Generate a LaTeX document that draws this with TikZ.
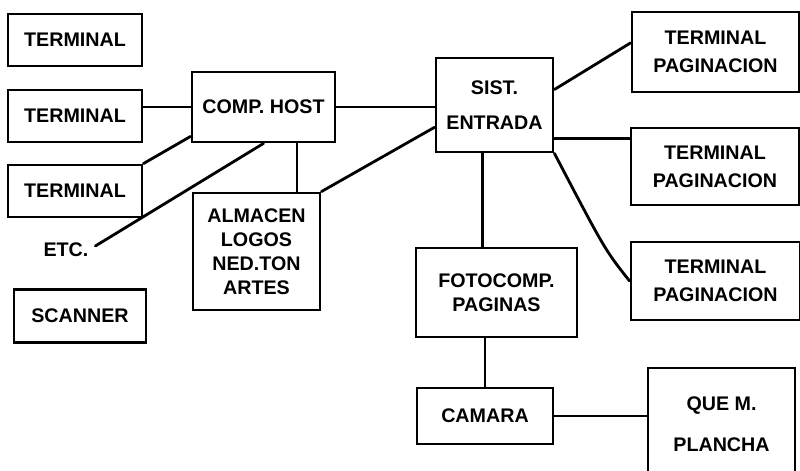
\documentclass[tikz,border=0pt]{standalone}
\usepackage{fontspec}
\setmainfont{Liberation Sans}
\usetikzlibrary{positioning, calc}
\tikzset{
	unit/.style     ={rectangle, draw=black, line width=2pt, align=center, inner sep=2pt, font=\fontsize{14}{17}\selectfont\bfseries},
	termbox/.style  ={unit, minimum width=3.35cm, minimum height=1.3cm},
	pagbox/.style   ={unit, minimum width=4.2cm, minimum height=1.95cm},
	wire/.style     ={line width=2pt, line cap=round},
}
\begin{document}
\begin{tikzpicture}[x=0.025cm, y=-0.025cm]
	\useasboundingbox (0,0) rectangle (800,471);
	\clip (0,0) rectangle (800,471);
	% left side terminals
	\node[termbox] (term1) at (75,40)  {TERMINAL};
	\node[termbox] (term2) at (75,116) {TERMINAL};
	\node[termbox] (term3) at (75,191) {TERMINAL};
	\node[font=\fontsize{14}{17}\selectfont\bfseries] (etc) at (66,250) {ETC.};
	\node[unit, minimum width=3.3cm, minimum height=1.325cm] (scan) at (80,316) {SCANNER};
	% host and storage
	\node[unit, minimum width=3.575cm, minimum height=1.75cm] (host) at (263.5,107) {COMP. HOST};
	\node[unit, minimum width=3.175cm, minimum height=2.925cm, font=\fontsize{14}{17}\selectfont\bfseries\linespread{1.15}] (alm) at (256.5,251.5) {ALMACEN\\LOGOS\\NED.TON\\ARTES};
	% entry system
	\node[unit, minimum width=2.925cm, minimum height=2.35cm] (sist) at (494.5,105) {SIST.\\[8pt]ENTRADA};
	% pagination terminals
	\node[pagbox, minimum width=4.175cm, minimum height=2.0cm] (pag1) at (715.5,52)  {TERMINAL\\[3pt]PAGINACION};
	\node[pagbox, minimum height=1.925cm] (pag2) at (715,166.5) {TERMINAL\\[3pt]PAGINACION};
	\node[pagbox, minimum width=4.225cm] (pag3) at (715.5,281) {TERMINAL\\[3pt]PAGINACION};
	% output chain
	\node[unit, minimum width=4.025cm, minimum height=2.225cm] (foto) at (496.5,292.5) {FOTOCOMP.\\PAGINAS};
	\node[unit, minimum width=3.4cm, minimum height=1.4cm] (cam) at (485,416) {CAMARA};
	\node[unit, minimum width=3.675cm, minimum height=2.8cm] (quem) at (721.5,424) {QUE M.\\[12pt]PLANCHA};
	% connections
	\draw[wire] (host.west -| term2.east) -- (host.west);
	\draw[wire] (term3.north east) -- ($(host.south west)+(0,-7)$);
	\draw[wire] ($(etc.east)+(2,-4)$) -- (host.south);
	\draw[wire] ($(host.south west)!0.73!(host.south east)$) coordinate (hs) -- (hs |- alm.north);
	\draw[wire] (alm.north east) -- ($(sist.south west)!0.27!(sist.north west)$);
	\draw[wire] (host.east) -- (host.east -| sist.west);
	\draw[wire] ($(sist.south east)!0.66!(sist.north east)$) -- ($(pag1.south west)!0.61!(pag1.north west)$);
	\draw[wire] ($(sist.south east)!0.15!(sist.north east)$) coordinate (se) -- (se -| pag2.west);
	\draw[wire] (sist.south east) .. controls (605,250) .. (pag3.west);
	\draw[wire] ($(sist.south west)!0.4!(sist.south east)$) coordinate (ss) -- (ss |- foto.north);
	\draw[wire] (cam.north) -- (cam.north |- foto.south);
	\draw[wire] (cam.east) -- (cam.east -| quem.west);
\end{tikzpicture}
\end{document}
